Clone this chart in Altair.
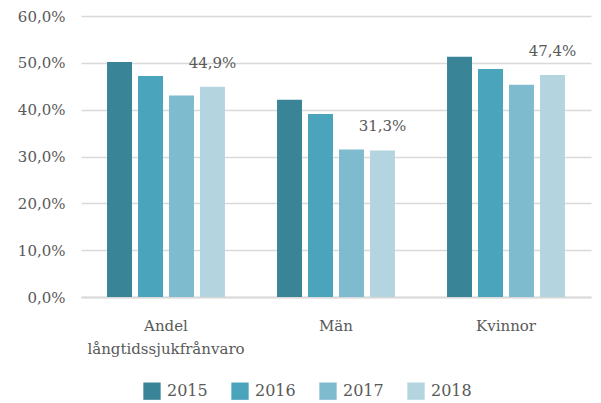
import altair as alt
import pandas as pd

categories = ["Andel långtidssjukfrånvaro", "Män", "Kvinnor"]
years = ["2015", "2016", "2017", "2018"]
v2015 = [50.2, 42.1, 51.3]
v2016 = [47.2, 39.1, 48.7]
v2017 = [43.0, 31.5, 45.3]
v2018 = [44.9, 31.3, 47.4]
colors = ["#3A8497", "#49A4BC", "#7FBBCF", "#B4D5E0"]

rows = []
for yr, vals in zip(years, [v2015, v2016, v2017, v2018]):
    for c, v in zip(categories, vals):
        rows.append({"cat": c, "year": yr, "value": v,
                     "label": (f"{v:.1f}".replace(".", ",") + "%") if yr == "2018" else ""})
df = pd.DataFrame(rows)

FONT = "DejaVu Serif"
GREY = "#595959"

x = alt.X("cat:N", sort=categories, title=None,
          scale=alt.Scale(paddingInner=0.0, paddingOuter=0.0),
          axis=alt.Axis(labelAngle=0, labelFont=FONT, labelFontSize=15, labelColor=GREY,
                        labelPadding=21, labelLineHeight=23, ticks=False,
                        domainColor="#d9d9d9", domainWidth=2,
                        labelExpr="datum.value == 'Andel långtidssjukfrånvaro' ? ['Andel', 'långtidssjukfrånvaro'] : datum.label"))
y = alt.Y("value:Q", title=None,
          scale=alt.Scale(domain=[0, 60], nice=False),
          axis=alt.Axis(values=[0, 10, 20, 30, 40, 50, 60], labelFont=FONT, labelFontSize=15,
                        labelColor=GREY, labelPadding=16, ticks=False, domain=False,
                        gridColor="#d9d9d9", gridWidth=1.5,
                        labelExpr="replace(format(datum.value, '.1f'), '.', ',') + '%'"))
xo = alt.XOffset("year:N", sort=years, scale=alt.Scale(paddingInner=0.194, paddingOuter=0.84))

base = alt.Chart(df)
bars = base.mark_bar().encode(
    x=x, y=y, xOffset=xo,
    color=alt.Color("year:N", sort=years, scale=alt.Scale(domain=years, range=colors),
                    legend=alt.Legend(title=None, orient="none", legendX=62, legendY=366,
                                      direction="horizontal", columns=4, symbolType="square",
                                      symbolSize=300, symbolStrokeWidth=0, labelFont=FONT,
                                      labelFontSize=16, labelColor=GREY, columnPadding=23,
                                      labelOffset=6)),
)
labels = base.mark_text(font=FONT, fontSize=15, color=GREY, baseline="bottom", dy=-16).encode(
    x=x, y=y, xOffset=xo, text="label:N")

chart = (bars + labels).properties(
    width=510, height=281,
    autosize=alt.AutoSizeParams(type="none"),
    padding={"left": 73, "top": 8, "right": 2, "bottom": 105},
).configure_view(stroke=None)

chart.save("out.html", embed_options={"renderer": "svg", "actions": False})
